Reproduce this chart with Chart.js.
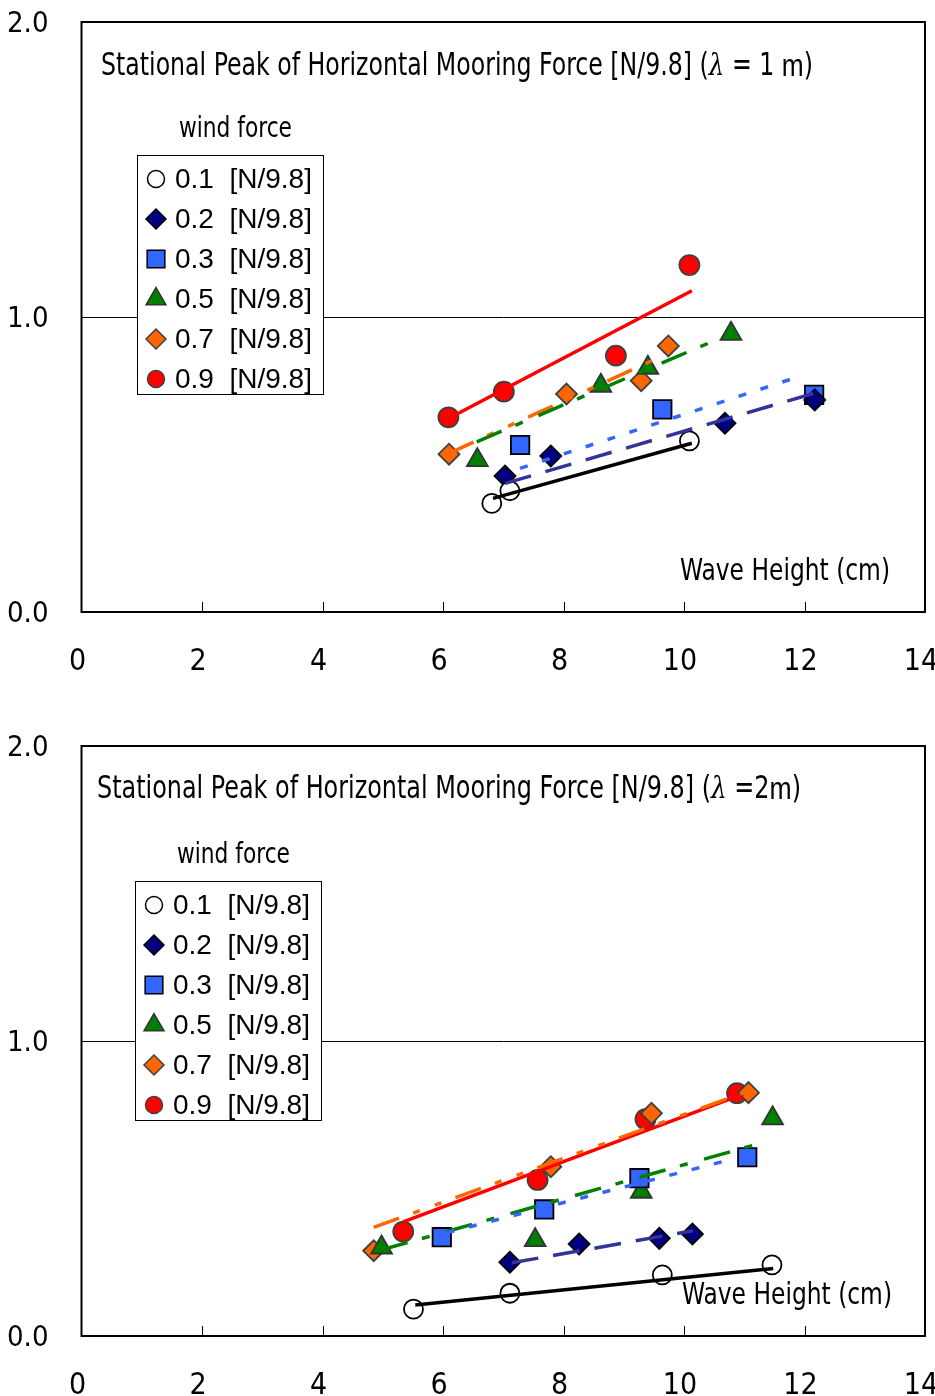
<!DOCTYPE html>
<html>
<head>
<meta charset="utf-8">
<title>Stational Peak of Horizontal Mooring Force</title>
<script src="https://cdn.jsdelivr.net/npm/chart.js@4.4.0/dist/chart.umd.min.js"></script>
<style>
  html, body { margin: 0; padding: 0; background: #fff; }
  .panel { position: absolute; left: 0; width: 935px; height: 698px; }
</style>
</head>
<body>
<div class="panel" style="top:0"><canvas id="chart1m" width="935" height="698"></canvas></div>
<div class="panel" style="top:698px"><canvas id="chart2m" width="935" height="698"></canvas></div>
<script>
// wind force of each series [N/9.8]
const windForces = ['0.1', '0.2', '0.3', '0.5', '0.7', '0.9']

// ---- lambda = 1 m : measured points (wave height cm, force N/9.8)
const wave1m_01 = [6.81, 7.11, 10.09]
const force1m_01 = [0.368, 0.411, 0.580]
const wave1m_02 = [7.03, 7.79, 10.68, 12.17]
const force1m_02 = [0.461, 0.529, 0.640, 0.719]
const wave1m_03 = [7.28, 9.64, 12.16]
const force1m_03 = [0.566, 0.687, 0.736]
const wave1m_05 = [6.57, 8.62, 9.40, 10.78]
const force1m_05 = [0.515, 0.767, 0.828, 0.943]
const wave1m_07 = [6.10, 8.05, 9.29, 9.74]
const force1m_07 = [0.535, 0.739, 0.784, 0.902]
const wave1m_09 = [6.09, 7.01, 8.87, 10.09]
const force1m_09 = [0.660, 0.747, 0.869, 1.176]

// ---- lambda = 1 m : trend line ends
const fitWave1m_01 = [6.83, 10.13]
const fitForce1m_01 = [0.385, 0.572]
const fitWave1m_02 = [7.03, 12.15]
const fitForce1m_02 = [0.436, 0.741]
const fitWave1m_03 = [7.28, 11.98]
const fitForce1m_03 = [0.487, 0.803]
const fitWave1m_05 = [6.56, 10.46]
const fitForce1m_05 = [0.577, 0.916]
const fitWave1m_07 = [6.10, 9.62]
const fitForce1m_07 = [0.538, 0.866]
const fitWave1m_09 = [6.09, 10.13]
const fitForce1m_09 = [0.656, 1.089]

// ---- lambda = 2 m : measured points
const wave2m_01 = [5.51, 7.11, 9.64, 11.46]
const force2m_01 = [0.091, 0.145, 0.207, 0.241]
const wave2m_02 = [7.11, 8.26, 9.59, 10.14]
const force2m_02 = [0.250, 0.312, 0.331, 0.346]
const wave2m_03 = [5.98, 7.68, 9.26, 11.05]
const force2m_03 = [0.335, 0.429, 0.535, 0.606]
const wave2m_05 = [4.98, 7.53, 9.29, 11.47]
const force2m_05 = [0.300, 0.325, 0.489, 0.738]
const wave2m_07 = [4.85, 7.79, 9.46, 11.07]
const force2m_07 = [0.289, 0.574, 0.755, 0.825]
const wave2m_09 = [5.34, 7.57, 9.36, 10.88]
const force2m_09 = [0.354, 0.529, 0.735, 0.823]

// ---- lambda = 2 m : trend line ends
const fitWave2m_01 = [5.54, 11.48]
const fitForce2m_01 = [0.105, 0.229]
const fitWave2m_02 = [7.14, 10.15]
const fitForce2m_02 = [0.248, 0.357]
const fitWave2m_03 = [6.06, 10.79]
const fitForce2m_03 = [0.350, 0.599]
const fitWave2m_05 = [4.98, 11.23]
const fitForce2m_05 = [0.292, 0.651]
const fitWave2m_07 = [4.85, 11.04]
const fitForce2m_07 = [0.368, 0.828]
const fitWave2m_09 = [5.34, 10.98]
const fitForce2m_09 = [0.387, 0.820]

const NARROW = '"Liberation Sans Narrow", "Arial Narrow", "DejaVu Sans Condensed", sans-serif'
const REGULAR = '"Liberation Sans", Arial, sans-serif'

const seriesStyles = [
    { marker: 'circle', radius: 9.5, fill: '#ffffff', border: '#000000', line: '#000000', dash: [] },
    { marker: 'rectRot', radius: 10.5, fill: '#000080', border: '#000000', line: '#333399', dash: [27, 15] },
    { marker: 'rect', radius: 13, fill: '#3366ff', border: '#000000', line: '#3366ff', dash: [8, 15] },
    { marker: 'triangle', radius: 12, fill: '#008000', border: '#333333', line: '#008000', dash: [27, 15, 8, 17] },
    { marker: 'rectRot', radius: 10.5, fill: '#ff6600', border: '#404040', line: '#ff6600', dash: [27, 15, 7, 16, 7, 15] },
    { marker: 'circle', radius: 10, fill: '#ff0000', border: '#404040', line: '#ff0000', dash: [] }
]

function toPoints(xs, ys) {
    return xs.map((x, i) => ({ x: x, y: ys[i] }))
}

function buildDatasets(waves, forces, fitWaves, fitForces) {
    const sets = []
    seriesStyles.forEach((s, i) => {
        sets.push({
            label: windForces[i] + ' [N/9.8]',
            data: toPoints(waves[i], forces[i]),
            showLine: false,
            pointStyle: s.marker,
            pointRadius: s.radius,
            pointHoverRadius: s.radius,
            pointBackgroundColor: s.fill,
            pointBorderColor: s.border,
            pointBorderWidth: 1.8,
            order: 2
        })
        sets.push({
            label: 'trend ' + windForces[i],
            data: toPoints(fitWaves[i], fitForces[i]),
            showLine: true,
            borderColor: s.line,
            borderWidth: 3.5,
            borderDash: s.dash,
            pointRadius: 0,
            order: 1
        })
    })
    return sets
}

// draws text pieces squeezed to a given width (the original uses a narrow face)
function fitText(ctx, segments, x, y, width) {
    let natural = 0
    segments.forEach(seg => {
        ctx.font = seg.font
        natural += ctx.measureText(seg.text).width
    })
    const k = Math.min(1, width / natural)
    ctx.save()
    ctx.translate(x, y)
    ctx.scale(k, 1)
    let cx = 0
    segments.forEach(seg => {
        ctx.font = seg.font
        ctx.fillText(seg.text, cx, 0)
        cx += ctx.measureText(seg.text).width
    })
    ctx.restore()
}

// frame, inward ticks, titles and the legend box
const decorPlugin = {
    id: 'decor',
    afterDatasetsDraw(chart, args, o) {
        const ctx = chart.ctx
        const area = chart.chartArea
        const xs = chart.scales.x
        ctx.save()
        ctx.strokeStyle = '#000'
        ctx.lineWidth = 2
        ctx.strokeRect(area.left, area.top, area.right - area.left, area.bottom - area.top)

        ctx.lineWidth = 1
        xs.ticks.forEach(t => {
            if (t.value <= xs.min || t.value >= xs.max) return
            const px = Math.round(xs.getPixelForValue(t.value)) + 0.5
            ctx.beginPath()
            ctx.moveTo(px, area.bottom)
            ctx.lineTo(px, area.bottom - 10)
            ctx.stroke()
        })

        ctx.fillStyle = '#000'
        ctx.textAlign = 'left'
        ctx.textBaseline = 'middle'
        fitText(ctx, o.title, o.titleX, o.titleY, o.titleWidth)
        fitText(ctx, [{ text: 'Wave Height (cm)', font: '31px ' + NARROW }], o.captionX, o.captionY, 210)
        fitText(ctx, [{ text: 'wind force', font: '28px ' + NARROW }], o.legendX + 42, o.legendY - 25, 113)

        ctx.fillStyle = '#fff'
        ctx.fillRect(o.legendX, o.legendY, 186, 239)
        ctx.strokeStyle = '#000'
        ctx.lineWidth = 1
        ctx.strokeRect(o.legendX + 0.5, o.legendY + 0.5, 186, 239)

        seriesStyles.forEach((s, i) => {
            const ry = o.legendY + 24 + i * 40
            ctx.fillStyle = s.fill
            ctx.strokeStyle = s.border
            ctx.lineWidth = 1.5
            Chart.helpers.drawPoint(ctx, {
                pointStyle: s.marker,
                radius: s.marker === 'circle' ? 8.5 : s.radius - 0.5,
                rotation: 0,
                borderWidth: 1.5
            }, o.legendX + 19, ry)
            ctx.fillStyle = '#000'
            fitText(ctx, [{ text: windForces[i] + '  [N/9.8]', font: '28px ' + REGULAR }], o.legendX + 38, ry + 1, 139)
        })
        ctx.restore()
    }
}

function renderPanel(canvasId, datasets, padTop, axisHeight, decor) {
    new Chart(document.getElementById(canvasId), {
        type: 'scatter',
        data: { datasets: datasets },
        plugins: [decorPlugin],
        options: {
            responsive: false,
            animation: false,
            layout: {
                autoPadding: false,
                padding: { top: padTop, right: 10, left: 0, bottom: 0 }
            },
            plugins: {
                legend: { display: false },
                tooltip: { enabled: false },
                decor: decor
            },
            scales: {
                x: {
                    type: 'linear',
                    min: 0,
                    max: 14,
                    afterFit: (s) => {
                        s.height = axisHeight
                        s.paddingLeft = 0
                        s.paddingRight = 0
                    },
                    ticks: {
                        stepSize: 2,
                        padding: 32,
                        labelOffset: -4,
                        maxRotation: 0,
                        color: '#000',
                        font: { family: NARROW, size: 30 }
                    },
                    grid: { display: false, drawTicks: false },
                    border: { display: false }
                },
                y: {
                    min: 0,
                    max: 2,
                    afterFit: (s) => {
                        s.width = 81.5
                        s.paddingTop = 0
                        s.paddingBottom = 0
                    },
                    ticks: {
                        stepSize: 1,
                        padding: 33,
                        labelOffset: 2,
                        color: '#000',
                        font: { family: NARROW, size: 29 },
                        callback: (v) => v.toFixed(1)
                    },
                    grid: {
                        drawTicks: false,
                        lineWidth: 1,
                        color: (c) => (c.tick && c.tick.value === 1 ? '#000' : 'rgba(0,0,0,0)')
                    },
                    border: { display: false }
                }
            }
        }
    })
}

function titleSegments(tail) {
    return [
        { text: 'Stational Peak of Horizontal Mooring Force [N/9.8] (', font: '32px ' + NARROW },
        { text: 'λ', font: 'italic 30px "DejaVu Serif", serif' }
    ].concat(tail)
}

renderPanel('chart1m',
    buildDatasets(
        [wave1m_01, wave1m_02, wave1m_03, wave1m_05, wave1m_07, wave1m_09],
        [force1m_01, force1m_02, force1m_03, force1m_05, force1m_07, force1m_09],
        [fitWave1m_01, fitWave1m_02, fitWave1m_03, fitWave1m_05, fitWave1m_07, fitWave1m_09],
        [fitForce1m_01, fitForce1m_02, fitForce1m_03, fitForce1m_05, fitForce1m_07, fitForce1m_09]
    ),
    22, 86,
    {
        title: titleSegments([
            { text: ' = 1 ', font: '32px ' + NARROW },
            { text: 'm', font: '32px ' + REGULAR },
            { text: ')', font: '32px ' + NARROW }
        ]),
        titleX: 101, titleY: 67, titleWidth: 712,
        captionX: 680, captionY: 572,
        legendX: 137, legendY: 155
    })

renderPanel('chart2m',
    buildDatasets(
        [wave2m_01, wave2m_02, wave2m_03, wave2m_05, wave2m_07, wave2m_09],
        [force2m_01, force2m_02, force2m_03, force2m_05, force2m_07, force2m_09],
        [fitWave2m_01, fitWave2m_02, fitWave2m_03, fitWave2m_05, fitWave2m_07, fitWave2m_09],
        [fitForce2m_01, fitForce2m_02, fitForce2m_03, fitForce2m_05, fitForce2m_07, fitForce2m_09]
    ),
    48, 60,
    {
        title: titleSegments([
            { text: ' =2', font: '32px ' + NARROW },
            { text: 'm', font: '32px ' + REGULAR },
            { text: ')', font: '32px ' + NARROW }
        ]),
        titleX: 97, titleY: 92, titleWidth: 704,
        captionX: 682, captionY: 598,
        legendX: 135, legendY: 183
    })
</script>
</body>
</html>
